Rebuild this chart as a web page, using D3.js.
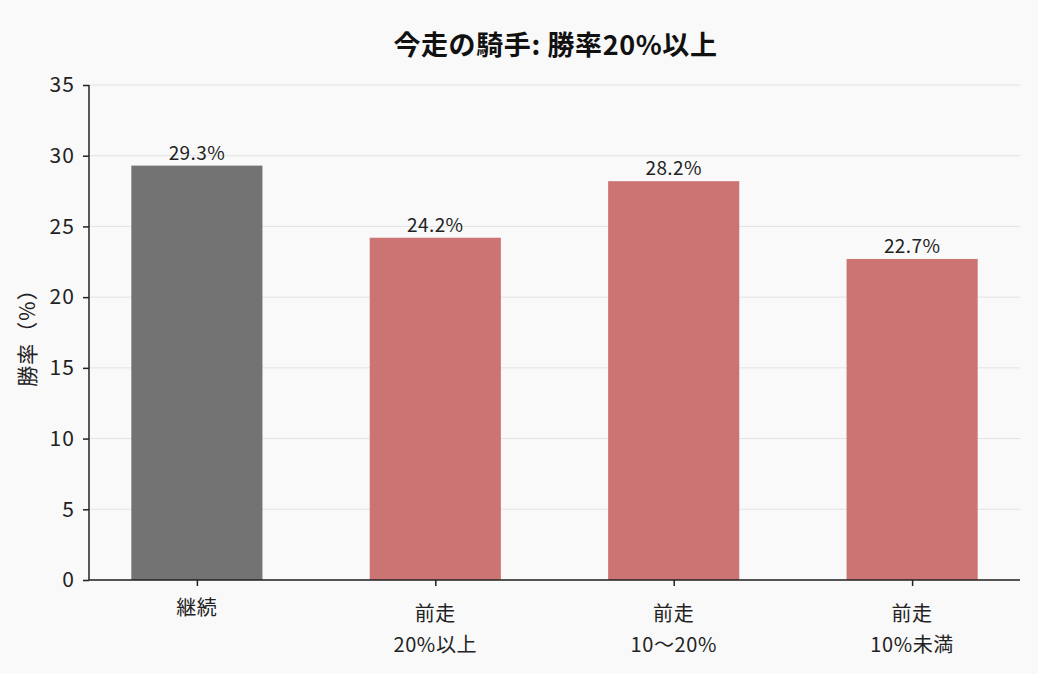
<!DOCTYPE html>
<html><head><meta charset="utf-8">
<script src="https://cdn.jsdelivr.net/npm/d3@7/dist/d3.min.js"></script>
<style>
html,body{margin:0;padding:0;background:#f9f9f9;}
svg{display:block;font-family:"Noto Sans CJK JP","Noto Sans",sans-serif;}
</style></head>
<body><svg id="c" width="1038" height="674"></svg>
<script>
const categories = [["継続"], ["前走", "20%以上"], ["前走", "10〜20%"], ["前走", "10%未満"]];
const values = [29.3, 24.2, 28.2, 22.7];
const barColors = ["#737373", "#cc7473", "#cc7473", "#cc7473"];
const yTicks = [0, 5, 10, 15, 20, 25, 30, 35];
const title = "今走の騎手: 勝率20%以上";
const yLabel = "勝率（%）";

(function () {
const svg = d3.select("#c");
const W = 1038, H = 674;
svg.append("rect").attr("width", W).attr("height", H).attr("fill", "#f9f9f9");
const mLeft = 89, mRight = 1020, mTop = 85, mBottom = 580;
const barW = 0.55;
const x = d3.scaleLinear().domain([-0.4525, 3.4525]).range([mLeft, mRight]);
const y = d3.scaleLinear().domain([0, 35]).range([mBottom, mTop]);

// grid
svg.append("g").selectAll("line").data(yTicks).join("line")
  .attr("x1", mLeft).attr("x2", mRight)
  .attr("y1", d => y(d)).attr("y2", d => y(d))
  .attr("stroke", "#e3e3e3").attr("stroke-width", 1);

// bars
svg.append("g").selectAll("rect").data(values).join("rect")
  .attr("x", (d, i) => x(i - barW / 2))
  .attr("width", (d, i) => x(i + barW / 2) - x(i - barW / 2))
  .attr("y", d => y(d))
  .attr("height", d => y(0) - y(d))
  .attr("fill", (d, i) => barColors[i]);

// value labels
svg.append("g").selectAll("text").data(values).join("text")
  .attr("x", (d, i) => x(i))
  .attr("y", d => y(d) - 6)
  .attr("text-anchor", "middle")
  .attr("font-size", 19).attr("letter-spacing", 0.4).attr("fill", "#222")
  .text(d => d.toFixed(1) + "%");

// y axis
const yAxis = d3.axisLeft(y).tickValues(yTicks).tickSize(6).tickPadding(9);
const gy = svg.append("g").attr("transform", `translate(${mLeft},0)`).call(yAxis);
gy.select(".domain").attr("stroke", "#222").attr("stroke-width", 1.5).attr("d", `M0,${mTop}V${mBottom}`);
gy.selectAll(".tick line").attr("stroke", "#222").attr("stroke-width", 1.5);
gy.selectAll(".tick text").attr("font-size", 21).attr("letter-spacing", 1.2).attr("dx", 1.2).attr("fill", "#222")
  .attr("font-family", "'Noto Sans CJK JP','Noto Sans',sans-serif");

// x axis
const xAxis = d3.axisBottom(x).tickValues(d3.range(categories.length)).tickSize(6).tickFormat("");
const gx = svg.append("g").attr("transform", `translate(0,${mBottom})`).call(xAxis);
gx.select(".domain").attr("stroke", "#222").attr("stroke-width", 1.5).attr("d", `M${mLeft},0H${mRight}`);
gx.selectAll(".tick line").attr("stroke", "#222").attr("stroke-width", 1.5);

// x tick labels
const xl = svg.append("g");
categories.forEach((lines, i) => {
  const n = lines.length;
  lines.forEach((t, j) => {
    xl.append("text")
      .attr("x", x(i))
      .attr("y", (n === 1 ? 615 : 621) + j * 31)
      .attr("text-anchor", "middle")
      .attr("font-size", 20).attr("letter-spacing", 0.6).attr("fill", "#222")
      .text(t);
  });
});

// y label
svg.append("text")
  .attr("transform", `translate(35,${(mTop + mBottom) / 2}) rotate(-90)`)
  .attr("text-anchor", "middle")
  .attr("font-size", 21).attr("letter-spacing", 1).attr("fill", "#222")
  .text(yLabel);

// title
svg.append("text")
  .attr("x", (mLeft + mRight) / 2 + 1).attr("y", 55)
  .attr("text-anchor", "middle")
  .attr("font-size", 27).attr("letter-spacing", 0.6).attr("font-weight", "bold").attr("fill", "#111")
  .text(title);
})();
</script></body></html>
